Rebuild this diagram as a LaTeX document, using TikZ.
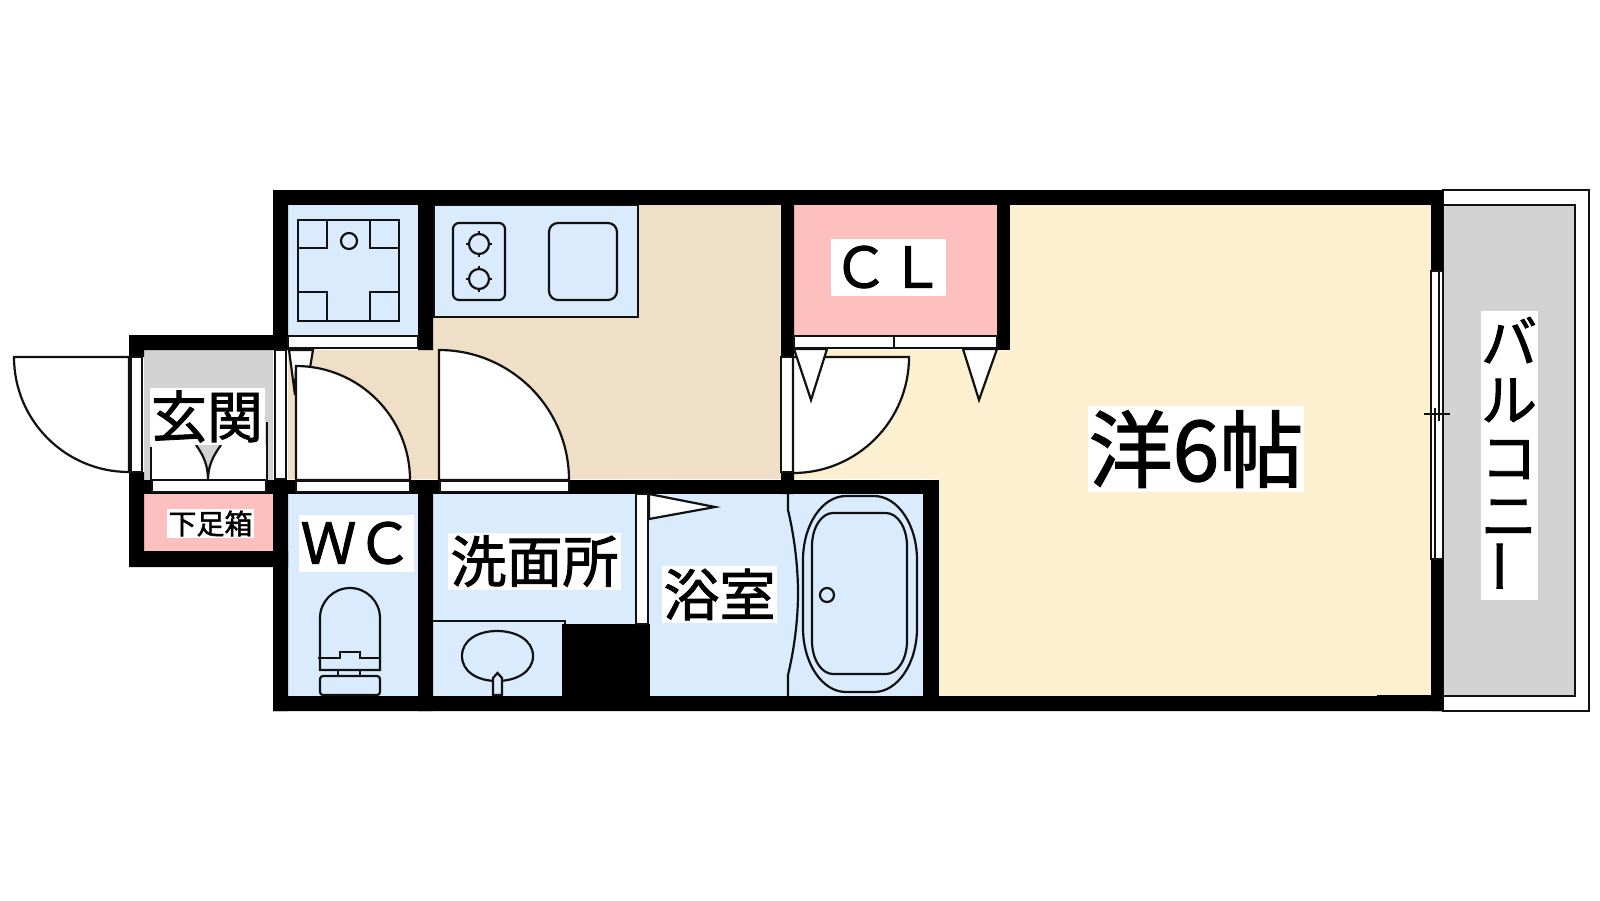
\documentclass[tikz,border=0pt]{standalone}
\usepackage{fontspec}
\usepackage{graphicx}
\newfontfamily\cjk[FakeBold=1.6]{Noto Sans CJK JP}
\definecolor{wetblue}{HTML}{DAEBFE}
\definecolor{floorbeige}{HTML}{EEDFC6}
\definecolor{roomcream}{HTML}{FDF0D1}
\definecolor{storepink}{HTML}{FEBFBF}
\definecolor{porchgray}{HTML}{D3D3D3}
\definecolor{fitline}{HTML}{111111}
\tikzset{
  wall/.style={fill=black},
  fit/.style={draw=fitline,line width=1.1pt},
  door/.style={fit,fill=white},
  lab/.style={fill=white,inner sep=0pt,font=\cjk\fontsize{28pt}{28pt}\selectfont,minimum width=115*0.5pt,minimum height=57*0.5pt}
}
\begin{document}
\begin{tikzpicture}[x=0.5pt,y=-0.5pt]

\useasboundingbox (0,0) rectangle (1600,900);

\fill[wetblue] (288,205) rectangle (418,336) (288,494) rectangle (418,696) (433,494) rectangle (650,696);
\fill[wetblue] (650,494) rectangle (923,696);
\fill[floorbeige] (433,205) -- (781,205) -- (781,479) -- (288,479) -- (288,350) -- (433,350) -- cycle;
\fill[roomcream] (1010,205) -- (1431,205) -- (1431,696) -- (939,696) -- (939,479) -- (794,479) -- (794,350) -- (1010,350) -- cycle;
\fill[storepink] (794,205) rectangle (997,336) (144,494) rectangle (273,551);
\fill[porchgray] (144,350) rectangle (273,480);

\draw[door,fill=wetblue] (434,205) rectangle (638,317);
\draw[fit,rounded corners=3pt] (453,223) rectangle (505,300);
\draw[fit,rounded corners=4.5pt] (549,223) rectangle (617,300);
\foreach \y in {244,279} {
  \draw[fit] (479,\y) circle[radius=10];
  \draw[fit] (479,\y-13) -- (479,\y-9) (479,\y+9) -- (479,\y+13) (466,\y) -- (470,\y) (488,\y) -- (492,\y);
}

\draw[fit] (298,220) rectangle (399,321);
\draw[fit] (298,248) -- (327,248) -- (327,220) (399,248) -- (370,248) -- (370,220);
\draw[fit] (298,292) -- (327,292) -- (327,321) (399,292) -- (370,292) -- (370,321);
\draw[fit] (349,241) circle[radius=8];

\fill[wall] (273,190) rectangle (1443,205);
\fill[wall] (273,190) rectangle (288,350) (418,190) rectangle (433,350);
\fill[wall] (129,335) rectangle (288,350) (129,335) rectangle (144,357);
\fill[wall] (129,472) rectangle (144,567) (129,551) rectangle (288,567);
\fill[wall] (129,480) rectangle (939,494);
\fill[wall] (273,480) rectangle (288,711) (418,480) rectangle (433,711);
\fill[wall] (273,696) rectangle (1443,711) (1377,695) rectangle (1443,711);
\fill[wall] (562,624) rectangle (650,696);
\fill[wall] (781,190) rectangle (794,357) (781,472) rectangle (794,494);
\fill[wall] (997,190) rectangle (1010,350);
\fill[wall] (923,480) rectangle (939,711);

\draw[door] (131,357) rectangle (142,472);
\draw[door] (129,357) -- (14,357) arc[start angle=180,end angle=90,radius=115] -- cycle;
\draw[door] (275,350) rectangle (286,479);
\draw[door] (288,336) rectangle (418,348);

\draw[door] (289,350) -- (313,350) -- (310,368) -- (296,368) -- (295,395) -- cycle;
\draw[door] (296,480) -- (296,366) arc[start angle=-90,end angle=0,radius=114] -- cycle;
\draw[door] (296,481) rectangle (410,492);
\draw[door] (439,480) -- (439,350) arc[start angle=-90,end angle=0,radius=130] -- cycle;
\draw[door] (440,481) rectangle (569,492);

\fill[white] (151,445) rectangle (267,480);
\fill[porchgray] (196,445) .. controls (204,456) and (208,466) .. (208,480) .. controls (208,466) and (213,456) .. (221,445) -- cycle;
\draw[fit] (196,445) .. controls (204,456) and (208,466) .. (208,480) .. controls (208,466) and (213,456) .. (221,445);
\draw[fit] (151,447) -- (151,480) (267,422) -- (267,480);
\draw[door] (152,480) rectangle (266,492);

\draw[door] (781,357) rectangle (793,472);
\draw[door] (793,357) -- (909,357) arc[start angle=0,end angle=90,radius=116] -- cycle;
\draw[door] (794,336) rectangle (997,348) (894,336) -- (894,348);
\draw[door] (794,349) -- (827,349) -- (811,400) -- cycle;
\draw[door] (963,349) -- (997,349) -- (979,400) -- cycle;

\draw[door] (636,494) rectangle (648,624);
\draw[door] (649,494) -- (715,507) -- (649,519) -- cycle;

\draw[fit] (433,621) -- (565,621) -- (565,624);
\draw[fit] (462,656) .. controls (462,640) and (478,631) .. (497,631) .. controls (516,631) and (533,640) .. (533,656) .. controls (533,672) and (516,681) .. (497,681) .. controls (478,681) and (462,672) .. (462,656) -- cycle;
\draw[fit,fill=wetblue] (493,695) -- (493,678) -- (497.5,673) -- (502,678) -- (502,695) -- cycle;

\draw[fit] (320,670) -- (320,618) arc[start angle=180,end angle=360,radius=30] -- (380,670) -- cycle;
\draw[fit] (318,658) -- (340,658) -- (340,652) -- (360,652) -- (360,658) -- (380,658);
\draw[fit] (338,670) rectangle (360,676);
\draw[fit,rounded corners=1.5pt] (320,676) rectangle (380,695);

\draw[fit] (788,494) -- (788,510) .. controls (794,535) and (798,565) .. (798,593) .. controls (798,621) and (794,650) .. (788,675) -- (788,696);
\draw[fit] (803,560) arc[start angle=180,end angle=270,x radius=43,y radius=64] -- (874,496) arc[start angle=270,end angle=360,x radius=43,y radius=64] -- (917,628) arc[start angle=0,end angle=90,x radius=43,y radius=64] -- (846,692) arc[start angle=90,end angle=180,x radius=43,y radius=64] -- cycle;
\draw[fit] (812,546) arc[start angle=180,end angle=270,x radius=21,y radius=33] -- (886,513) arc[start angle=270,end angle=360,x radius=21,y radius=33] -- (907,641) arc[start angle=0,end angle=90,x radius=21,y radius=33] -- (833,674) arc[start angle=90,end angle=180,x radius=21,y radius=33] -- cycle;
\draw[fit] (827,595) circle[radius=7];

\draw[door] (1443,190) rectangle (1589,711);
\draw[fit,fill=porchgray] (1443,205) rectangle (1575,696);
\fill[wall] (1431,190) rectangle (1443,271) (1431,559) rectangle (1443,711);
\draw[door] (1431,271) rectangle (1443,559);
\draw[fit] (1439,271) -- (1439,421) (1435,408) -- (1435,559);
\draw[fit] (1424,414) -- (1450,414);

\node[lab] (genkan) at (207,416.5) {玄関};
\node[lab,font=\cjk\fontsize{14pt}{14pt}\selectfont,minimum width=87*0.5pt,minimum height=29*0.5pt] (shoes) at (210.5,523.5) {下足箱};
\node[lab] (wc) at (356.5,543) {ＷＣ};
\node[lab,minimum width=173*0.5pt] (wash) at (534.5,561) {洗面所};
\node[lab] (bath) at (719.5,594.5) {浴室};
\node[lab] (cl) at (888.5,267) {ＣＬ};
\node[lab,font=\cjk\fontsize{42pt}{42pt}\selectfont,minimum width=216*0.5pt,minimum height=86*0.5pt] (room) at (1196,449) {洋6帖};
\node[lab,align=center,minimum width=57*0.5pt,minimum height=289*0.5pt,font=\cjk\fontsize{28pt}{28.9pt}\selectfont] (balcony) at (1509,455.5) {バ\\ル\\コ\\ニ\\\rotatebox{90}{ー}};

\end{tikzpicture}
\end{document}
